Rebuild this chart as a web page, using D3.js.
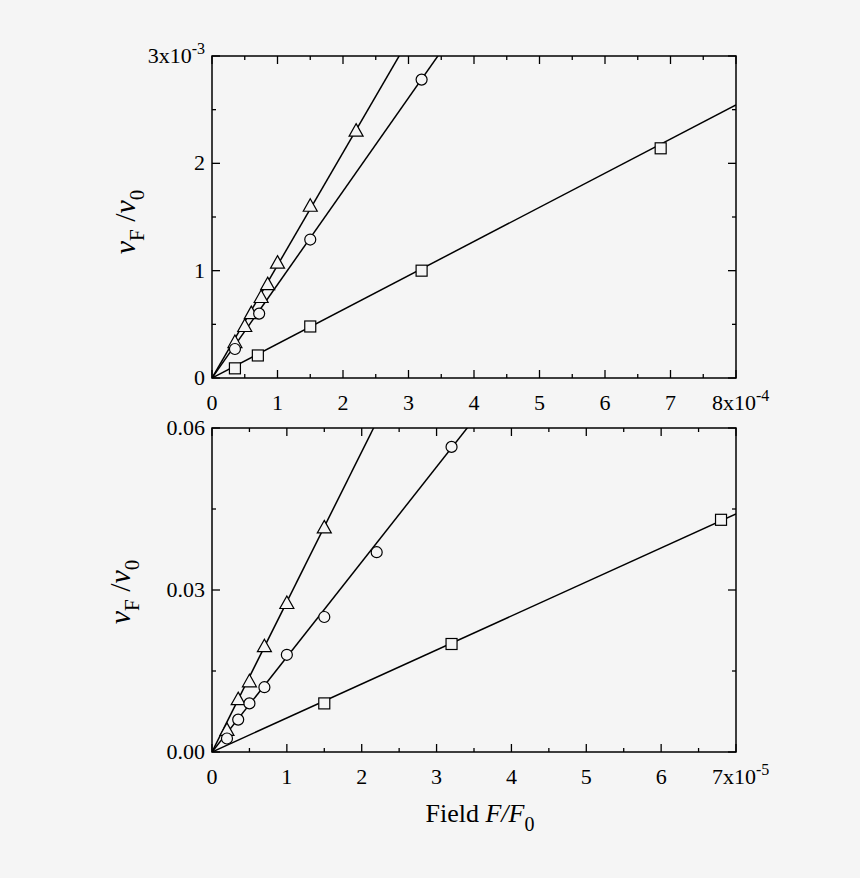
<!DOCTYPE html>
<html><head><meta charset="utf-8">
<script src="https://cdn.jsdelivr.net/npm/d3@7"></script>
<style>body{margin:0;background:#f5f5f5}text{font-family:"Liberation Serif","Times New Roman",serif;fill:#000}</style>
</head><body><svg id="c" width="860" height="878"></svg>
<script>
// Top panel (x in 1e-4, y in 1e-3)
const topTriX=[0.35,0.5,0.6,0.75,0.85,1.0,1.5,2.2];
const topTriY=[0.33,0.48,0.6,0.75,0.87,1.07,1.6,2.3];
const topCirX=[0.35,0.72,1.5,3.2];
const topCirY=[0.27,0.6,1.29,2.78];
const topSqX=[0.35,0.7,1.5,3.2,6.85];
const topSqY=[0.09,0.21,0.48,1.0,2.14];
const topSlopes=[1.05,0.87,0.318];
// Bottom panel (x in 1e-5, y in 0.01)
const botTriX=[0.2,0.35,0.5,0.7,1.0,1.5];
const botTriY=[0.4,0.97,1.3,1.95,2.75,4.15];
const botCirX=[0.2,0.35,0.5,0.7,1.0,1.5,2.2,3.2];
const botCirY=[0.25,0.6,0.9,1.2,1.8,2.5,3.7,5.65];
const botSqX=[1.5,3.2,6.8];
const botSqY=[0.9,2.0,4.3];
const botSlopes=[2.78,1.76,0.63];

const topXTicks=["0","1","2","3","4","5","6","7"];
const topYTicks=["0","1","2"];
const botXTicks=["0","1","2","3","4","5","6"];
const botYTicks=["0.00","0.03"];

const svg=d3.select("#c");
function panel(o){
  const g=svg.append("g");
  const x=d3.scaleLinear().domain([0,o.xmax]).range([212,736]);
  const y=d3.scaleLinear().domain([0,o.ymax]).range([o.y0,o.y1]);
  const cp="clip"+o.id;
  g.append("clipPath").attr("id",cp).append("rect").attr("x",212).attr("y",o.y1).attr("width",524).attr("height",o.y0-o.y1);
  o.slopes.forEach(s=>{
    g.append("line").attr("clip-path",`url(#${cp})`).attr("x1",x(0)).attr("y1",y(0)).attr("x2",x(o.xmax)).attr("y2",y(s*o.xmax)).attr("stroke","#000").attr("stroke-width",1.5);
  });
  g.append("rect").attr("x",212).attr("y",o.y1).attr("width",524).attr("height",o.y0-o.y1).attr("fill","none").attr("stroke","#000").attr("stroke-width",1.5);
  const xt=d3.range(0,o.xmax+1e-9,o.xmax/o.xn/2);
  xt.forEach((v,i)=>{const L=i%2?4:8;
    g.append("line").attr("x1",x(v)).attr("x2",x(v)).attr("y1",o.y0).attr("y2",o.y0-L).attr("stroke","#000").attr("stroke-width",1.3);
    g.append("line").attr("x1",x(v)).attr("x2",x(v)).attr("y1",o.y1).attr("y2",o.y1+L).attr("stroke","#000").attr("stroke-width",1.3);});
  const yt=d3.range(0,o.ymax+1e-9,o.ystep/2);
  yt.forEach((v,i)=>{const L=i%2?4:8;
    g.append("line").attr("y1",y(v)).attr("y2",y(v)).attr("x1",212).attr("x2",212+L).attr("stroke","#000").attr("stroke-width",1.3);
    g.append("line").attr("y1",y(v)).attr("y2",y(v)).attr("x1",736).attr("x2",736-L).attr("stroke","#000").attr("stroke-width",1.3);});
  o.xlabels.forEach((t,i)=>g.append("text").attr("x",x(i)).attr("y",o.y0+32).attr("text-anchor","middle").attr("font-size",22).text(t));
  const lx=g.append("text").attr("x",x(o.xmax)-24).attr("y",o.y0+32).attr("font-size",22);
  lx.append("tspan").text(o.xmax+"x10");lx.append("tspan").attr("dy",-9).attr("font-size",16).text(o.xexp);
  o.ylabels.forEach((t,i)=>g.append("text").attr("x",205).attr("y",y(i*o.ystep)+7).attr("text-anchor","end").attr("font-size",22).text(t));
  const ly=g.append("text").attr("x",205).attr("y",o.y1+7).attr("text-anchor","end").attr("font-size",22);
  if(o.yexp){ly.append("tspan").text(o.ytop+"x10");ly.append("tspan").attr("dy",-9).attr("font-size",16).text(o.yexp);}
  else ly.text(o.ytop);
  const ms=o.marks;
  ms.tri[0].forEach((v,i)=>{const cx=x(v),cy=y(ms.tri[1][i]);
    g.append("path").attr("d",`M${cx},${cy-7.5}L${cx+7},${cy+5}L${cx-7},${cy+5}Z`).attr("fill","#f5f5f5").attr("stroke","#000").attr("stroke-width",1.2);});
  ms.cir[0].forEach((v,i)=>g.append("circle").attr("cx",x(v)).attr("cy",y(ms.cir[1][i])).attr("r",5.5).attr("fill","#f5f5f5").attr("stroke","#000").attr("stroke-width",1.2));
  ms.sq[0].forEach((v,i)=>g.append("rect").attr("x",x(v)-5.5).attr("y",y(ms.sq[1][i])-5.5).attr("width",11).attr("height",11).attr("fill","#f5f5f5").attr("stroke","#000").attr("stroke-width",1.2));
  const yl=g.append("text").attr("transform",`translate(${o.ytx},${o.tyc}) rotate(-90)`).attr("text-anchor","middle").attr("font-size",30);
  yl.append("tspan").attr("font-style","italic").text("ν");
  yl.append("tspan").attr("dy",9).attr("font-size",21).text("F");
  yl.append("tspan").attr("dy",-9).text(" /");
  yl.append("tspan").attr("font-style","italic").text("ν");
  yl.append("tspan").attr("dy",9).attr("font-size",21).text("0");
}
panel({id:"t",xmax:8,ymax:3,y0:378,y1:56,xn:8,ystep:1,xlabels:topXTicks,ylabels:topYTicks,xexp:"-4",ytop:"3",yexp:"-3",
  slopes:topSlopes,marks:{tri:[topTriX,topTriY],cir:[topCirX,topCirY],sq:[topSqX,topSqY]},ytx:135,tyc:222});
panel({id:"b",xmax:7,ymax:6,y0:752,y1:428,xn:7,ystep:3,xlabels:botXTicks,ylabels:botYTicks,xexp:"-5",ytop:"0.06",yexp:null,
  slopes:botSlopes,marks:{tri:[botTriX,botTriY],cir:[botCirX,botCirY],sq:[botSqX,botSqY]},ytx:130,tyc:592});
const xl=svg.append("text").attr("x",480).attr("y",822).attr("text-anchor","middle").attr("font-size",26);
xl.append("tspan").text("Field ");
xl.append("tspan").attr("font-style","italic").text("F/F");
xl.append("tspan").attr("dy",9).attr("font-size",20).text("0");
</script></body></html>
